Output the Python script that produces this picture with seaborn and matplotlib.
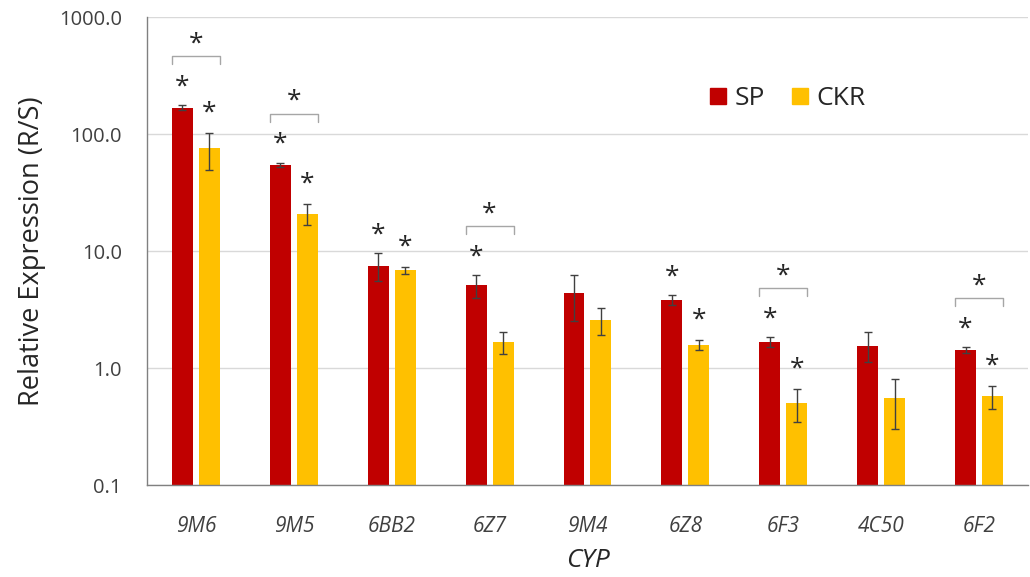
import numpy as np
import pandas as pd
import seaborn as sns
import matplotlib
matplotlib.use('Agg')
import matplotlib.pyplot as plt
from matplotlib.patches import Patch
from matplotlib.ticker import FixedLocator, FixedFormatter, NullLocator


# CYP genes and relative expression (R/S)
genes = ['9M6', '9M5', '6BB2', '6Z7', '9M4', '6Z8', '6F3', '4C50', '6F2']
sp_mean = [167, 54, 7.4, 5.1, 4.4, 3.8, 1.67, 1.54, 1.43]
sp_low = [160, 52, 5.5, 4.0, 2.5, 3.45, 1.51, 1.13, 1.34]
sp_high = [178, 57, 9.6, 6.2, 6.2, 4.2, 1.84, 2.03, 1.51]
ckr_mean = [76, 20.7, 6.9, 1.67, 2.57, 1.57, 0.50, 0.55, 0.58]
ckr_low = [49, 16.7, 6.4, 1.32, 1.91, 1.43, 0.345, 0.30, 0.45]
ckr_high = [102, 25, 7.3, 2.03, 3.26, 1.73, 0.66, 0.805, 0.70]

# significance marks
sp_sig = [True, True, True, True, False, True, True, False, True]
ckr_sig = [True, True, True, False, False, True, True, False, True]
pair_sig = [True, True, False, True, False, False, True, False, True]

SP_COLOR = '#C00000'
CKR_COLOR = '#FFC000'

df = pd.DataFrame({
    'CYP': genes * 2,
    'value': sp_mean + ckr_mean,
    'group': ['SP'] * len(genes) + ['CKR'] * len(genes),
})

sns.set_style('white')
plt.rcParams['font.family'] = ['Open Sans', 'DejaVu Sans']

fig = plt.figure(figsize=(10.3, 5.77), dpi=100)
ax = fig.add_axes([0.1427, 0.1594, 0.8553, 0.8111])

sns.barplot(data=df, x='CYP', y='value', hue='group', order=genes,
            hue_order=['SP', 'CKR'], palette=[SP_COLOR, CKR_COLOR],
            saturation=1, width=0.55, gap=0.22, errorbar=None, legend=False,
            ax=ax, linewidth=0, log_scale=(False, True))

ax.set_yscale('log')
ax.set_ylim(0.1, 1000)
ax.set_xlim(-0.5, len(genes) - 0.5)

# error bars drawn at the bar centres
bars = ax.patches
n = len(genes)
sp_x = [bars[i].get_x() + bars[i].get_width() / 2 for i in range(n)]
ckr_x = [bars[n + i].get_x() + bars[n + i].get_width() / 2 for i in range(n)]
ax.errorbar(sp_x, sp_mean,
            yerr=[np.subtract(sp_mean, sp_low), np.subtract(sp_high, sp_mean)],
            fmt='none', ecolor='#404040', elinewidth=1, capsize=3, capthick=1)
ax.errorbar(ckr_x, ckr_mean,
            yerr=[np.subtract(ckr_mean, ckr_low), np.subtract(ckr_high, ckr_mean)],
            fmt='none', ecolor='#404040', elinewidth=1, capsize=3, capthick=1)

# stars and brackets (offsets in pixels above the error bar top)
px = 117.0  # pixels per decade
star_kw = dict(ha='center', va='center', fontsize=19, color='#262626')
half_bar = bars[0].get_width() / 2
for i in range(n):
    if sp_sig[i]:
        ax.text(sp_x[i], sp_high[i] * 10 ** (18 / px), '*', **star_kw)
    if ckr_sig[i]:
        ax.text(ckr_x[i], ckr_high[i] * 10 ** (20 / px), '*', **star_kw)
    if pair_sig[i]:
        yb = sp_high[i] * 10 ** (49 / px)
        ytick = yb / 10 ** (8 / px)
        x0 = sp_x[i] - half_bar
        x1 = ckr_x[i] + half_bar
        ax.plot([x0, x0, x1, x1], [ytick, yb, yb, ytick],
                color='#A6A6A6', lw=1)
        ax.text((x0 + x1) / 2, yb * 10 ** (12 / px), '*', **star_kw)

# axes styling
ax.yaxis.set_major_locator(FixedLocator([0.1, 1, 10, 100, 1000]))
ax.yaxis.set_major_formatter(FixedFormatter(['0.1', '1.0', '10.0', '100.0', '1000.0']))
ax.yaxis.set_minor_locator(NullLocator())
ax.grid(axis='y', color='#D9D9D9', lw=1)
ax.set_axisbelow(True)
for side in ['top', 'right']:
    ax.spines[side].set_visible(False)
for side in ['left', 'bottom']:
    ax.spines[side].set_color('#808080')
    ax.spines[side].set_linewidth(1)
ax.tick_params(axis='y', length=0, pad=18, labelsize=14.5, labelcolor='#404040')
ax.tick_params(axis='x', length=0, pad=22, labelsize=15, labelcolor='#404040')
for lab in ax.get_xticklabels():
    lab.set_fontstyle('italic')

ax.set_ylabel('Relative Expression (R/S)', fontsize=19.5, color='#262626', labelpad=9)
ax.set_xlabel('CYP', fontsize=19, fontstyle='italic', color='#262626', labelpad=8)

handles = [Patch(color=SP_COLOR, label='SP'), Patch(color=CKR_COLOR, label='CKR')]
ax.legend(handles=handles, loc='center left', bbox_to_anchor=(0.612, 0.825),
          ncol=2, frameon=False, fontsize=19, handlelength=0.6, handleheight=0.6,
          handletextpad=0.35, columnspacing=1.0)

plt.savefig('out.png', dpi=100)
